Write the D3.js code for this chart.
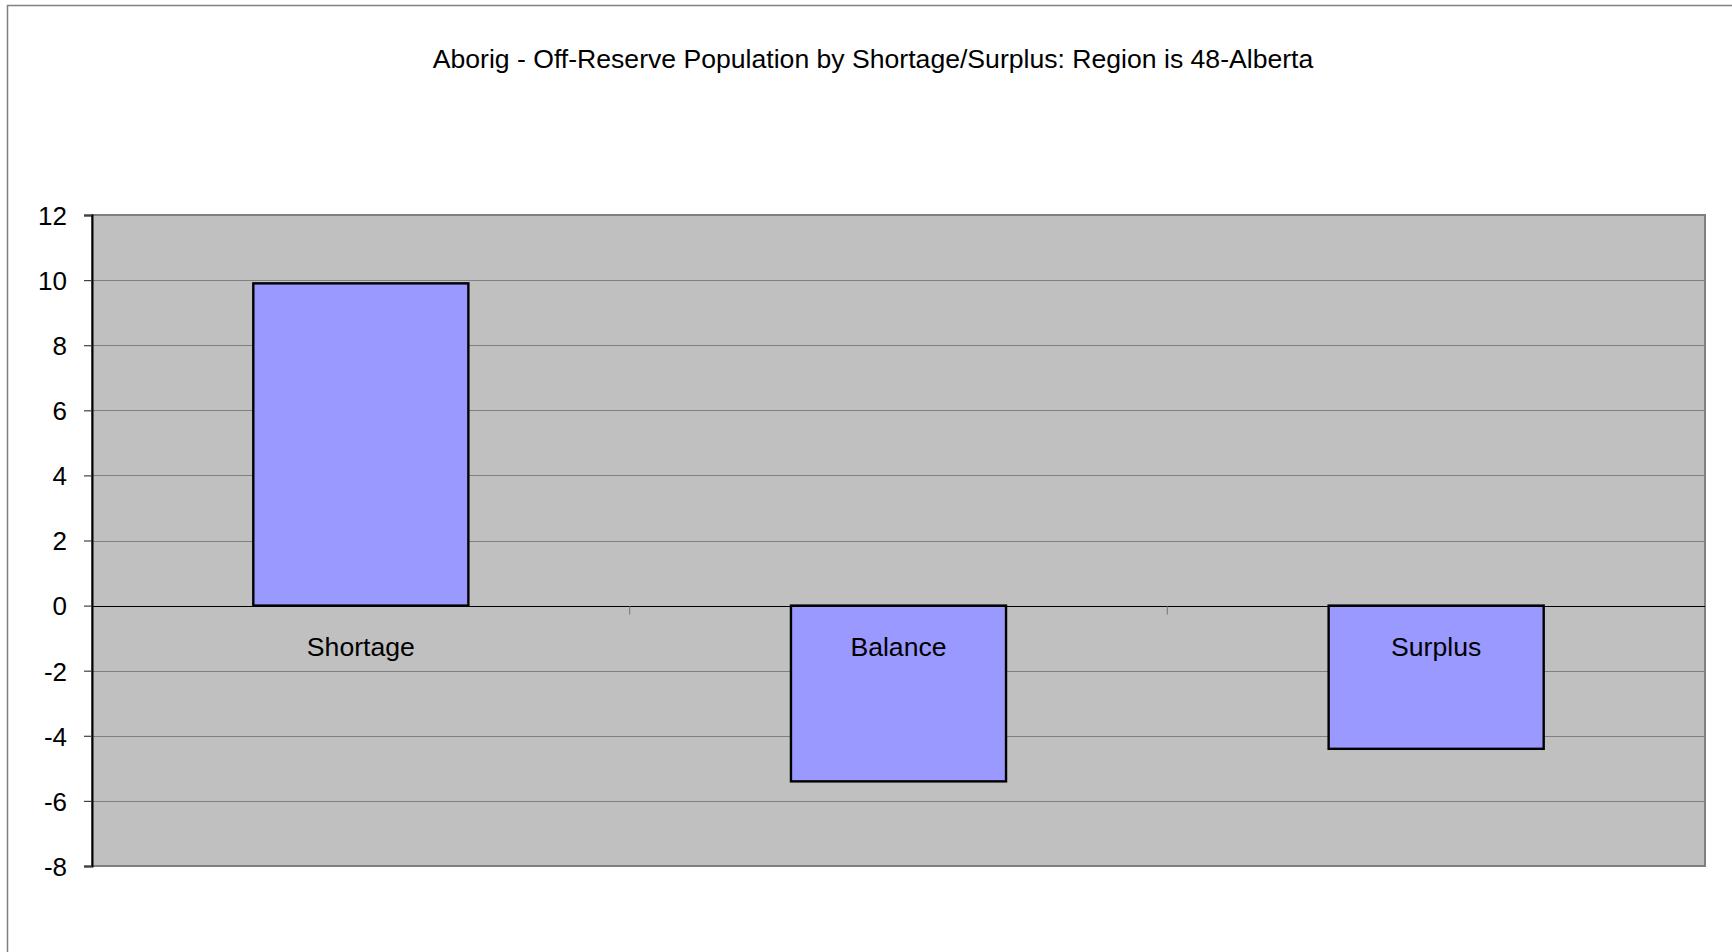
<!DOCTYPE html>
<html>
<head>
<meta charset="utf-8">
<script src="https://cdn.jsdelivr.net/npm/d3@7"></script>
<style>
  body { margin: 0; background: #fff; }
  text { font-family: "Liberation Sans", Arial, sans-serif; fill: #000; }
</style>
</head>
<body>
<svg id="chart" width="1732" height="952"></svg>
<script>
// data
const categories = ["Shortage", "Balance", "Surplus"];
const values = [9.9, -5.4, -4.4];
const yTicks = [12, 10, 8, 6, 4, 2, 0, -2, -4, -6, -8];
const title = "Aborig - Off-Reserve Population by Shortage/Surplus: Region is 48-Alberta";

const svg = d3.select("#chart");
const plot = {left: 92, top: 215, right: 1705, bottom: 866};

// chart frame
svg.append("rect")
    .attr("x", 7.5).attr("y", 5.5)
    .attr("width", 1800).attr("height", 1000)
    .attr("fill", "#fff").attr("stroke", "#808080").attr("stroke-width", 1.5);

svg.append("text")
    .attr("x", 873).attr("y", 68)
    .attr("text-anchor", "middle")
    .style("font-size", "26.6px")
    .text(title);

const x = d3.scaleBand()
    .domain(categories)
    .range([plot.left, plot.right])
    .paddingInner(0.6)
    .paddingOuter(0.3);

const y = d3.scaleLinear()
    .domain([-8, 12])
    .range([plot.bottom, plot.top]);

// plot area
svg.append("rect")
    .attr("x", plot.left).attr("y", plot.top)
    .attr("width", plot.right - plot.left).attr("height", plot.bottom - plot.top)
    .attr("fill", "#c0c0c0");

// gridlines
svg.append("g")
    .selectAll("line")
    .data(yTicks.filter(d => d !== 0 && d !== -8 && d !== 12))
    .join("line")
    .attr("x1", plot.left).attr("x2", plot.right)
    .attr("y1", d => Math.round(y(d)) + 0.5).attr("y2", d => Math.round(y(d)) + 0.5)
    .attr("stroke", "#808080").attr("stroke-width", 1.2);

// plot area border
svg.append("rect")
    .attr("x", plot.left).attr("y", plot.top)
    .attr("width", plot.right - plot.left).attr("height", plot.bottom - plot.top)
    .attr("fill", "none").attr("stroke", "#808080").attr("stroke-width", 2);

// bars
svg.append("g")
    .selectAll("rect")
    .data(categories.map((c, i) => ({c, v: values[i]})))
    .join("rect")
    .attr("x", d => x(d.c))
    .attr("width", x.bandwidth())
    .attr("y", d => y(Math.max(0, d.v)))
    .attr("height", d => Math.abs(y(d.v) - y(0)))
    .attr("fill", "#9999ff")
    .attr("stroke", "#000").attr("stroke-width", 2.4);

// zero line (category axis)
const y0 = Math.round(y(0)) + 0.5;
svg.append("line")
    .attr("x1", plot.left).attr("x2", plot.right)
    .attr("y1", y0).attr("y2", y0)
    .attr("stroke", "#000").attr("stroke-width", 1.2);

// category boundary ticks
const step = x.step();
svg.append("g")
    .selectAll("line")
    .data(d3.range(1, categories.length))
    .join("line")
    .attr("x1", i => plot.left + i * step).attr("x2", i => plot.left + i * step)
    .attr("y1", y0).attr("y2", y0 + 8)
    .attr("stroke", "#808080").attr("stroke-width", 1.2);

// category labels
svg.append("g")
    .selectAll("text")
    .data(categories)
    .join("text")
    .attr("x", d => x(d) + x.bandwidth() / 2)
    .attr("y", y(0) + 50)
    .attr("text-anchor", "middle")
    .style("font-size", "26.6px")
    .text(d => d);

// value axis
const yAxis = svg.append("g")
    .attr("transform", `translate(${plot.left},0)`)
    .call(d3.axisLeft(y).tickValues(yTicks).tickSize(8).tickPadding(17).tickFormat(d => String(d)));
yAxis.select(".domain").attr("stroke", "#000").attr("stroke-width", 2);
yAxis.selectAll(".tick line").attr("stroke", "#404040").attr("stroke-width", 1.2);
yAxis.selectAll(".tick text")
    .style("font-size", "26px")
    .style("font-family", "'Liberation Sans', Arial, sans-serif")
    .attr("fill", "#000")
    .attr("dy", "0.36em");
</script>
</body>
</html>
